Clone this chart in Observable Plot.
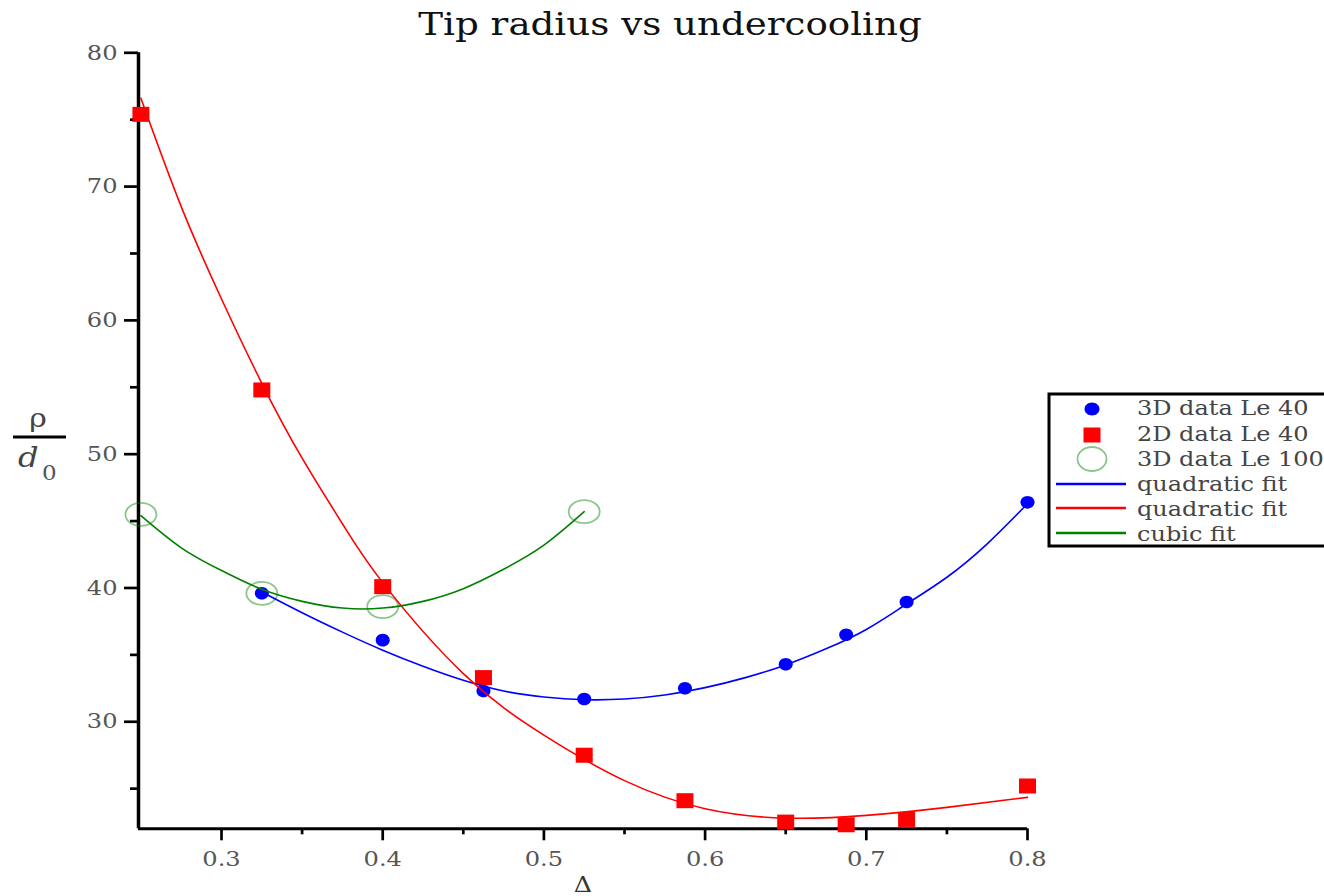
<!DOCTYPE html>
<html>
<head>
<meta charset="utf-8">
<script src="https://cdn.jsdelivr.net/npm/d3@7"></script>
<script src="https://cdn.jsdelivr.net/npm/@observablehq/plot@0.6"></script>
<style>
  html, body { margin: 0; padding: 0; background: #fff; }
  #wrap { position: relative; width: 1324px; height: 896px; overflow: hidden; background: #fff; }
  #wrap > svg { position: absolute; left: 0; top: 0; }
</style>
</head>
<body>
<div id="wrap"></div>
<script>
// ---------- data ----------
const titleText = "Tip radius vs undercooling";
const xLabel = "Δ";
const xDomain = [0.2485, 0.8];
const yDomain = [22, 80];
const xMajorTicks = [0.3, 0.4, 0.5, 0.6, 0.7, 0.8];
const xMinorTicks = [0.35, 0.45, 0.55, 0.65, 0.75];
const yMajorTicks = [30, 40, 50, 60, 70, 80];
const yMinorTicks = [25, 35, 45, 55, 65, 75];

// 3D data Le 40 (blue points)
const delta3DLe40 = [0.325, 0.4, 0.4625, 0.525, 0.5875, 0.65, 0.6875, 0.725, 0.8];
const rho3DLe40   = [39.6, 36.1, 32.3, 31.7, 32.5, 34.3, 36.5, 38.95, 46.4];
// 2D data Le 40 (red squares)
const delta2DLe40 = [0.25, 0.325, 0.4, 0.4625, 0.525, 0.5875, 0.65, 0.6875, 0.725, 0.8];
const rho2DLe40   = [75.4, 54.8, 40.1, 33.3, 27.5, 24.1, 22.5, 22.3, 22.7, 25.2];
// 3D data Le 100 (green circles)
const delta3DLe100 = [0.25, 0.325, 0.4, 0.525];
const rho3DLe100   = [45.5, 39.6, 38.6, 45.7];

// fit curves
const blueFitX = [0.325, 0.35, 0.375, 0.4, 0.425, 0.45, 0.475, 0.5, 0.525, 0.55, 0.575, 0.6, 0.625, 0.65, 0.675, 0.7, 0.725, 0.75, 0.775, 0.8];
const blueFitY = [39.7, 38.15, 36.7, 35.35, 34.15, 33.1, 32.3, 31.85, 31.65, 31.7, 32.0, 32.55, 33.3, 34.25, 35.45, 36.9, 38.8, 40.8, 43.3, 46.3];
const redFitX  = [0.25, 0.275, 0.3, 0.325, 0.35, 0.375, 0.4, 0.45, 0.5, 0.55, 0.6, 0.65, 0.7, 0.75, 0.8];
const redFitY  = [76.6, 68.5, 61.6, 55.3, 49.7, 44.8, 40.4, 33.6, 29.0, 25.6, 23.5, 22.8, 23.0, 23.6, 24.35];
const greenFitX = [0.25, 0.275, 0.3, 0.325, 0.35, 0.375, 0.4, 0.425, 0.45, 0.475, 0.5, 0.525];
const greenFitY = [45.4, 43.0, 41.3, 39.9, 39.0, 38.5, 38.5, 39.0, 39.95, 41.4, 43.2, 45.7];

const legendLabels = ["3D data Le 40", "2D data Le 40", "3D data Le 100", "quadratic fit", "quadratic fit", "cubic fit"];
const seriesColors = {blue: "#0000ff", red: "#ff0000", green: "#008000"};

// ---------- custom marker shapes ----------
function ellipseSymbol(rx, ry) {
  return {
    draw(ctx) {
      const k = 0.5523;
      ctx.moveTo(rx, 0);
      ctx.bezierCurveTo(rx, ry * k, rx * k, ry, 0, ry);
      ctx.bezierCurveTo(-rx * k, ry, -rx, ry * k, -rx, 0);
      ctx.bezierCurveTo(-rx, -ry * k, -rx * k, -ry, 0, -ry);
      ctx.bezierCurveTo(rx * k, -ry, rx, -ry * k, rx, 0);
      ctx.closePath();
    }
  };
}
function rectSymbol(hw, hh) {
  return {
    draw(ctx) {
      ctx.moveTo(-hw, -hh); ctx.lineTo(hw, -hh); ctx.lineTo(hw, hh); ctx.lineTo(-hw, hh); ctx.closePath();
    }
  };
}
const blueSym = ellipseSymbol(7, 6.3);
const redSym = rectSymbol(8.5, 7.5);
const greenSym = ellipseSymbol(15.5, 11.5);

const serif = "DejaVu Serif";
const W = 1324, H = 896;

const chart = Plot.plot({
  width: W,
  height: H,
  marginLeft: 138,
  marginRight: 297,
  marginTop: 52.3,
  marginBottom: 896 - 828.3,
  x: {domain: xDomain},
  y: {domain: yDomain},
  style: {background: "transparent", overflow: "visible", color: "#000"},
  marks: [
    Plot.axisY(yMajorTicks, {tickSize: 14, tickPadding: 7, strokeWidth: 2.7, stroke: "#000", fill: "#555",
      fontSize: 21, fontFamily: serif, label: null, tickFormat: d => String(d)}),
    Plot.axisY(yMinorTicks, {tickSize: 8, strokeWidth: 2.7, stroke: "#000", label: null, tickFormat: () => ""}),
    Plot.axisX(xMajorTicks, {tickSize: 12, tickPadding: 10, strokeWidth: 2.7, stroke: "#000", fill: "#555",
      fontSize: 21, fontFamily: serif, label: null, tickFormat: d => String(d)}),
    Plot.axisX(xMinorTicks, {tickSize: 6, strokeWidth: 2.7, stroke: "#000", label: null, tickFormat: () => ""}),
    Plot.ruleX([xDomain[0]], {stroke: "#000", strokeWidth: 3.5}),
    Plot.ruleY([yDomain[0]], {stroke: "#000", strokeWidth: 3}),
    Plot.text([xLabel], {frameAnchor: "bottom", dy: 48, lineAnchor: "top", text: d => d,
      fontSize: 22, fontFamily: serif, fill: "#333"}),
    Plot.dot({length: delta3DLe40.length}, {x: delta3DLe40, y: rho3DLe40, symbol: blueSym, fill: seriesColors.blue}),
    Plot.dot({length: delta2DLe40.length}, {x: delta2DLe40, y: rho2DLe40, symbol: redSym, fill: seriesColors.red}),
    Plot.dot({length: delta3DLe100.length}, {x: delta3DLe100, y: rho3DLe100, symbol: greenSym, fill: "none",
      stroke: seriesColors.green, strokeOpacity: 0.45, strokeWidth: 1.8}),
    Plot.line({length: blueFitX.length}, {x: blueFitX, y: blueFitY, curve: "natural", stroke: seriesColors.blue, strokeWidth: 1.6}),
    Plot.line({length: redFitX.length}, {x: redFitX, y: redFitY, curve: "natural", stroke: seriesColors.red, strokeWidth: 1.6}),
    Plot.line({length: greenFitX.length}, {x: greenFitX, y: greenFitY, curve: "natural", stroke: seriesColors.green, strokeWidth: 1.6})
  ]
});

const wrap = document.getElementById("wrap");
wrap.appendChild(chart);

// stretch tick labels horizontally (the reference text is wide)
chart.querySelectorAll("text").forEach(t => {
  const w = t.getComputedTextLength();
  if (w > 0) {
    t.setAttribute("textLength", (w * 1.15).toFixed(1));
    t.setAttribute("lengthAdjust", "spacingAndGlyphs");
  }
});

// ---------- overlay: title, y label, legend ----------
const ov = d3.select(wrap).append("svg").attr("width", W).attr("height", H)
  .style("position", "absolute").style("left", 0).style("top", 0);

ov.append("text")
  .attr("x", 0).attr("y", 0)
  .attr("transform", "translate(670,35) scale(1.2,1)")
  .attr("text-anchor", "middle")
  .attr("font-family", serif).attr("font-size", 31).attr("fill", "#111")
  .text(titleText);

// y label: rho over d0
const yl = ov.append("g");
yl.append("text").attr("transform", "translate(38,427) scale(1.15,1)").attr("text-anchor", "middle")
  .attr("font-family", serif).attr("font-size", 26).attr("fill", "#444").text("ρ");
yl.append("line").attr("x1", 13).attr("x2", 66).attr("y1", 437).attr("y2", 437)
  .attr("stroke", "#000").attr("stroke-width", 3);
yl.append("text").attr("transform", "translate(18,467) scale(1.15,1)")
  .attr("font-family", serif).attr("font-style", "italic").attr("font-size", 28).attr("fill", "#444").text("d");
yl.append("text").attr("transform", "translate(42,480) scale(1.15,1)")
  .attr("font-family", serif).attr("font-size", 20).attr("fill", "#555").text("0");

// legend
const lg = ov.append("g").attr("transform", "translate(1049,394)");
lg.append("rect").attr("x", 0).attr("y", 0).attr("width", 400).attr("height", 152)
  .attr("fill", "#fff").attr("stroke", "#000").attr("stroke-width", 3);
const symRows = [15, 41, 65];
const lineRows = [90, 114, 139];
const baselines = [21, 47, 72, 97, 122, 147];
const pathOf = sym => { const p = d3.path(); sym.draw(p); return p.toString(); };
lg.append("path").attr("transform", `translate(43,${symRows[0]})`).attr("d", pathOf(ellipseSymbol(7.5, 6.5))).attr("fill", seriesColors.blue);
lg.append("path").attr("transform", `translate(43,${symRows[1]})`).attr("d", pathOf(redSym)).attr("fill", seriesColors.red);
lg.append("path").attr("transform", `translate(43,${symRows[2]})`).attr("d", pathOf(ellipseSymbol(14.5, 12)))
  .attr("fill", "none").attr("stroke", seriesColors.green).attr("stroke-opacity", 0.45).attr("stroke-width", 1.8);
[seriesColors.blue, seriesColors.red, seriesColors.green].forEach((c, i) => {
  lg.append("line").attr("x1", 7).attr("x2", 77).attr("y1", lineRows[i]).attr("y2", lineRows[i])
    .attr("stroke", c).attr("stroke-width", 2.5);
});
legendLabels.forEach((s, i) => {
  lg.append("text").attr("transform", `translate(88,${baselines[i]}) scale(1.2,1)`)
    .attr("font-family", serif).attr("font-size", 20).attr("fill", "#444").text(s);
});
</script>
</body>
</html>
